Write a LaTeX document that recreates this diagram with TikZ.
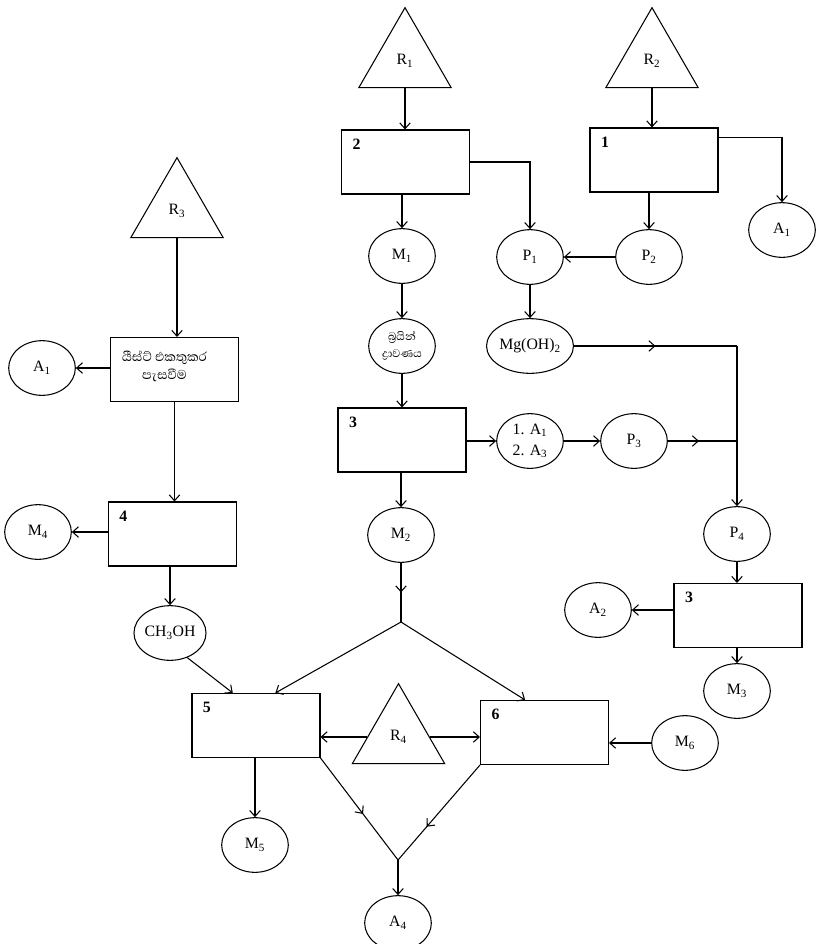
\documentclass[tikz,border=0pt]{standalone}
\usepackage{fontspec}
\setmainfont{Liberation Serif}
\newfontfamily\sinhala[Script=Sinhala]{Abhaya Libre}
\usetikzlibrary{arrows.meta,shapes.geometric,decorations.markings,calc}
\begin{document}
\begin{tikzpicture}[x=0.03cm,y=-0.03cm, line width=0.9pt,
 font=\fontsize{13.5}{16}\selectfont,
 proc/.style={draw, rectangle, minimum width=3.84cm, minimum height=1.92cm, inner sep=0},
 num/.style={label={[anchor=north west,inner sep=0,xshift=0.33cm,yshift=-0.27cm]north west:\bfseries #1}},
 oval/.style={draw, ellipse, minimum width=2cm, minimum height=1.64cm, inner sep=0},
 tri/.style={draw, regular polygon, regular polygon sides=3, minimum size=3.2cm, inner sep=0},
 arr/.style={-{Straight Barb[length=5pt,width=9pt]}},
 midarr/.style={postaction={decorate}, decoration={markings, mark=at position #1 with {\arrow{Straight Barb[length=5pt,width=9pt]}}}},
 midarr/.default=0.5]
\fill[white] (0,0) rectangle (833,944);
\useasboundingbox (0,0) rectangle (833,944);

% triangles
\node[tri] (R1) at (405,61) {R\textsubscript{1}};
\node[tri] (R2) at (652,61) {R\textsubscript{2}};
\node[tri] (R3) at (177,211) {R\textsubscript{3}};
\node[tri] (R4) at (398.5,737) {R\textsubscript{4}};

% process boxes
\node[proc,label={[align=center,inner sep=0,xshift=-0.3cm,yshift=0.1cm,font=\sinhala\fontsize{14}{15}\selectfont]center:යීස්ට් එකතුකර\\පැසවීම}] (yeast) at (174.5,369.5) {};
\node[proc,num=2] (b2) at (405.5,162) {};
\node[proc,num=1] (b1) at (654,160) {};
\node[proc,num=4] (b4) at (172.5,534) {};
\node[proc,num=3] (b3) at (402,440) {};
\node[proc,num=3] (b3r) at (738,615.5) {};
\node[proc,num=5] (b5) at (256,725.5) {};
\node[proc,num=6] (b6) at (544.5,732.5) {};

% ellipses
\node[oval] (M1) at (402,256) {M\textsubscript{1}};
\node[oval] (P1) at (530,257) {P\textsubscript{1}};
\node[oval] (P2) at (649,257) {P\textsubscript{2}};
\node[oval] (A1r) at (782,230) {A\textsubscript{1}};
\node[oval,align=center,font=\sinhala\fontsize{12}{14}\selectfont] (brine) at (402,346) {බ්^^^^200dරයින්\\ද්^^^^200dරාවණය};
\node[oval] (MgOH) at (530,346) {Mg(OH)\textsubscript{2}};
\node[oval] (A1l) at (42,368) {A\textsubscript{1}};
\node[oval] (M4) at (38,532) {M\textsubscript{4}};
\node[oval,align=left] (L12) at (530,441) {1. A\textsubscript{1}\\[2pt]2. A\textsubscript{3}};
\node[oval] (P3) at (634,441) {P\textsubscript{3}};
\node[oval] (M2) at (401,535) {M\textsubscript{2}};
\node[oval] (P4) at (737,534) {P\textsubscript{4}};
\node[oval] (A2) at (598,610) {A\textsubscript{2}};
\node[oval] (M3) at (737,691) {M\textsubscript{3}};
\node[oval] (M6) at (685,743) {M\textsubscript{6}};
\node[oval] (CH) at (170,633) {CH\textsubscript{3}OH};
\node[oval] (M5) at (255,845) {M\textsubscript{5}};
\node[oval] (A4) at (398,923) {A\textsubscript{4}};

% junctions
\coordinate (j1) at (MgOH.east -| P4);
\coordinate (j2) at (P3.east -| P4);
\coordinate (j3) at (401,622);
\coordinate (j4) at (398,860);

% connectors
\draw[arr] (R1.south) -- (R1.south |- b2.north);
\draw[arr] (R2.south) -- (R2.south |- b1.north);
\draw[arr] (M1 |- b2.south) -- (M1.north);
\draw[arr] (b2.east) -| (P1.north);
\draw[arr] ([yshift=-0.3cm]b1.north east) -| (A1r.north);
\draw[arr] (P2 |- b1.south) -- (P2.north);
\draw[arr] (P2.west) -- (P1.east);
\draw[arr] (M1.south) -- (brine.north);
\draw[arr] (P1.south) -- (MgOH.north);
\draw[midarr] (MgOH.east) -- (j1);
\draw[arr] (j1) -- (P4.north);
\draw[midarr=0.45] (P3.east) -- (j2);
\draw[arr] (brine.south) -- (brine.south |- b3.north);
\draw[arr] (b3.east |- L12.west) -- (L12.west);
\draw[arr] (L12.east) -- (P3.west);
\draw[arr] (M2 |- b3.south) -- (M2.north);
\draw[midarr] (M2.south) -- (j3);
\draw[arr] (j3) -- ($(b5.north west)!0.65!(b5.north east)$);
\draw[arr] (j3) -- ($(b6.north west)!0.35!(b6.north east)$);
\draw[arr] (CH.-55) -- ($(b5.north west)!0.32!(b5.north east)$);
\draw[arr] (R4.west) -- (R4.west -| b5.east);
\draw[arr] (R4.east) -- (R4.east -| b6.west);
\draw[arr] (M6.west) -- (M6.west -| b6.east);
\draw[arr] (M5 |- b5.south) -- (M5.north);
\draw[midarr=0.55] (b5.south east) -- (j4);
\draw[midarr=0.65] (b6.south west) -- (j4);
\draw[arr] (j4) -- (A4.north);
\draw[arr] (P4.south) -- (P4.south |- b3r.north);
\draw[arr] (A2.east -| b3r.west) -- (A2.east);
\draw[arr] (M3 |- b3r.south) -- (M3.north);
\draw[arr] (R3.south) -- (R3.south |- yeast.north);
\draw[arr] (A1l.east -| yeast.west) -- (A1l.east);
\draw[arr] (yeast.south) -- (yeast.south |- b4.north);
\draw[arr] (M4.east -| b4.west) -- (M4.east);
\draw[arr] (CH |- b4.south) -- (CH.north);
\end{tikzpicture}
\end{document}
